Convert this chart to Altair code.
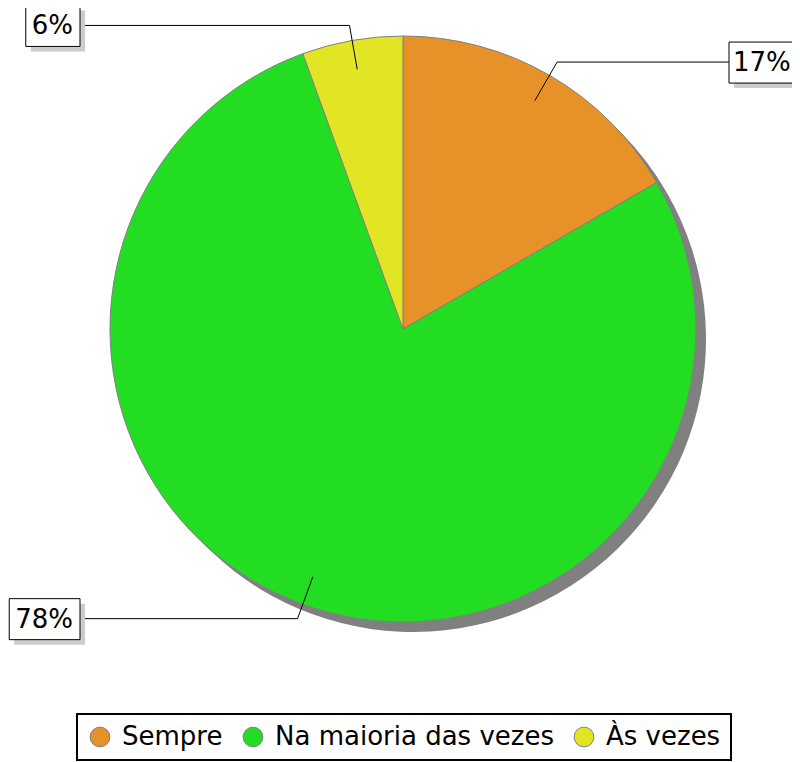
import math
import altair as alt
import pandas as pd

categories = ["Sempre", "Na maioria das vezes", "Às vezes"]
counts = [3, 14, 1]
labels = ["17%", "78%", "6%"]
colors = ["#E69229", "#22DD22", "#E2E524"]

W, H = 784, 754
CX, CY = 395, 321          # pie centre in plot coords
R = 293
FONT = "DejaVu Sans"
FS = 26

total = sum(counts)
pie = pd.DataFrame({"cat": categories, "n": counts, "ord": list(range(len(categories)))})

rows = []
cum = 0
for cat, n, lab in zip(categories, counts, labels):
    mid = (cum + n / 2) / total * 2 * math.pi
    cum += n
    s, c = math.sin(mid), math.cos(mid)
    x0, y0 = 0.9 * R * s, -0.9 * R * c
    x1, y1 = 1.052 * R * s, -1.052 * R * c
    right = s > 0
    xe = 326 if right else -323
    tw = sum(0.95 if ch == "%" else 0.636 for ch in lab) * FS
    w = tw + 13
    bx1, bx2 = (xe, xe + w) if right else (xe - w, xe)
    rows.append(dict(lab=lab, x0=x0, y0=y0, x1=x1, y1=y1, xe=xe,
                     bx1=bx1, bx2=bx2, by1=y1 - 20, by2=y1 + 21,
                     sx1=bx1 + 5, sx2=bx2 + 5, sy1=y1 - 15, sy2=y1 + 26,
                     tx=bx1 + (4 if right else 6)))
ann = pd.DataFrame(rows)

xs = alt.Scale(domain=[-CX, W - CX], nice=False, zero=False)
ys = alt.Scale(domain=[H - CY, -CY], nice=False, zero=False)

def X(f):
    return alt.X(f, type="quantitative", scale=xs, axis=None)

def Y(f):
    return alt.Y(f, type="quantitative", scale=ys, axis=None)

shadow = alt.Chart(pie).mark_arc(radius=R, color="#808080").encode(
    theta=alt.Theta("n:Q", stack=True),
    order=alt.Order("ord:Q"),
    x=alt.value(CX + 10), y=alt.value(CY + 10),
)

arcs = alt.Chart(pie).mark_arc(radius=R, stroke="#808080", strokeWidth=1).encode(
    theta=alt.Theta("n:Q", stack=True),
    order=alt.Order("ord:Q"),
    color=alt.Color("cat:N", scale=alt.Scale(domain=categories, range=colors),
                    sort=categories,
                    legend=alt.Legend(title=None, orient="none", legendX=69, legendY=706,
                                      direction="horizontal", symbolType="circle",
                                      symbolSize=390, symbolStrokeColor="#808080",
                                      symbolStrokeWidth=1, labelFont=FONT,
                                      labelFontSize=FS, labelColor="black",
                                      labelOffset=9, columnPadding=17, padding=10,
                                      strokeColor="black", labelLimit=400)),
    x=alt.value(CX), y=alt.value(CY),
)

seg1 = alt.Chart(ann).mark_rule(color="black", strokeWidth=1).encode(
    x=X("x0"), y=Y("y0"), x2="x1", y2="y1")
seg2 = alt.Chart(ann).mark_rule(color="black", strokeWidth=1).encode(
    x=X("x1"), y=Y("y1"), x2="xe", y2="y1")
bshadow = alt.Chart(ann).mark_rect(color="#cccccc").encode(
    x=X("sx1"), x2="sx2", y=Y("sy1"), y2="sy2")
box = alt.Chart(ann).mark_rect(fill="white", stroke="black", strokeWidth=1).encode(
    x=X("bx1"), x2="bx2", y=Y("by1"), y2="by2")
txt = alt.Chart(ann).mark_text(font=FONT, fontSize=FS, color="black",
                               align="left", baseline="middle", dy=1).encode(
    x=X("tx"), y=Y("y1"), text="lab:N")

chart = alt.layer(shadow, arcs, seg1, seg2, bshadow, box, txt).properties(
    width=W, height=H, autosize=alt.AutoSizeParams(type="none"), padding=0
).configure_view(stroke=None).configure_legend(strokeWidth=2)

chart.save("out.html", embed_options={"renderer": "svg", "actions": False})
